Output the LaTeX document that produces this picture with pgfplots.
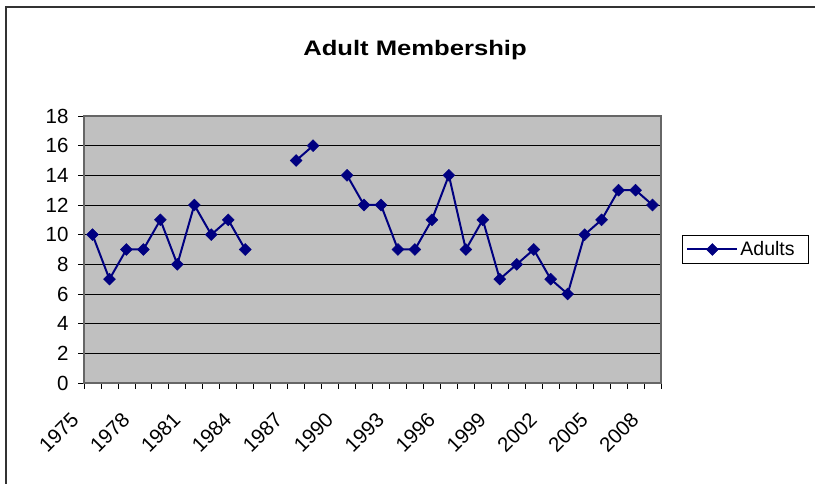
\documentclass[border=0pt]{standalone}
\usepackage{fontspec}
\setmainfont{Liberation Sans}
\usepackage{pgfplots}
\pgfplotsset{compat=1.18}
\definecolor{cNavy}{HTML}{000080}
\definecolor{cPlot}{HTML}{C0C0C0}
\newcommand\lbl{\fontsize{19.5bp}{22bp}\selectfont}
\newcommand\tck{\fontsize{20.5bp}{23bp}\selectfont}

\begin{document}
\begin{tikzpicture}[x=1bp, y=1bp]
% outer chart frame (right and bottom edges fall outside the picture)
\draw[line width=2bp, black!80] (6,0) -- (6,477) -- (815,477);
\node[anchor=base, font=\bfseries\fontsize{21bp}{24bp}\selectfont, xscale=1.22] at (415,428) {Adult Membership};

\begin{axis}[
  at={(84bp,101bp)}, anchor=south west,
  scale only axis, width=577bp, height=267bp,
  xmin=1974.5, xmax=2008.5, ymin=0, ymax=18,
  axis background/.style={fill=cPlot},
  axis line style={line width=1.5bp, draw=black!60},
  ymajorgrids, grid style={black, line width=0.9bp},
  ytick={0,2,...,18},
  xtick={1975,1978,...,2008},
  minor xtick={1974.5,1975.5,...,2008.5},
  tick align=outside, xtick pos=bottom, ytick pos=left,
  major tick length=6bp, minor tick length=6bp,
  x tick style={draw=none}, minor x tick style={draw=black, line width=0.8bp},
  y tick style={draw=black, line width=0.8bp},
  /pgf/number format/assume math mode=true,
  xticklabel style={/pgf/number format/1000 sep={}, font=\tck, xshift=-15bp, yshift=-25bp, rotate=45, anchor=east},
  yticklabel style={font=\tck, xshift=-6bp},
  unbounded coords=jump,
  legend style={at={(1,0.5)}, anchor=west, xshift=21bp, draw=black, line width=0.8bp,
    font=\lbl, inner xsep=4bp, inner ysep=4.5bp},
  legend cell align=left,
  legend image code/.code={\draw[#1, mark repeat=2, mark phase=2] plot coordinates {(0bp,0bp) (25bp,0bp) (50bp,0bp)};},
]
\addplot[color=cNavy, line width=2bp, mark=square*, mark size=4.2bp,
  mark options={rotate=45, fill=cNavy, draw=cNavy, line width=0.5bp}] coordinates {
  (1975,10) (1976,7) (1977,9) (1978,9) (1979,11) (1980,8) (1981,12) (1982,10)
  (1983,11) (1984,9) (1985,nan) (1986,nan) (1987,15) (1988,16) (1989,nan)
  (1990,14) (1991,12) (1992,12) (1993,9) (1994,9) (1995,11) (1996,14) (1997,9)
  (1998,11) (1999,7) (2000,8) (2001,9) (2002,7) (2003,6) (2004,10) (2005,11)
  (2006,13) (2007,13) (2008,12)};
\legend{Adults\hspace*{8bp}}
\end{axis}
\pgfresetboundingbox
\path[use as bounding box] (0,0) rectangle (817,484);
\end{tikzpicture}
\end{document}
